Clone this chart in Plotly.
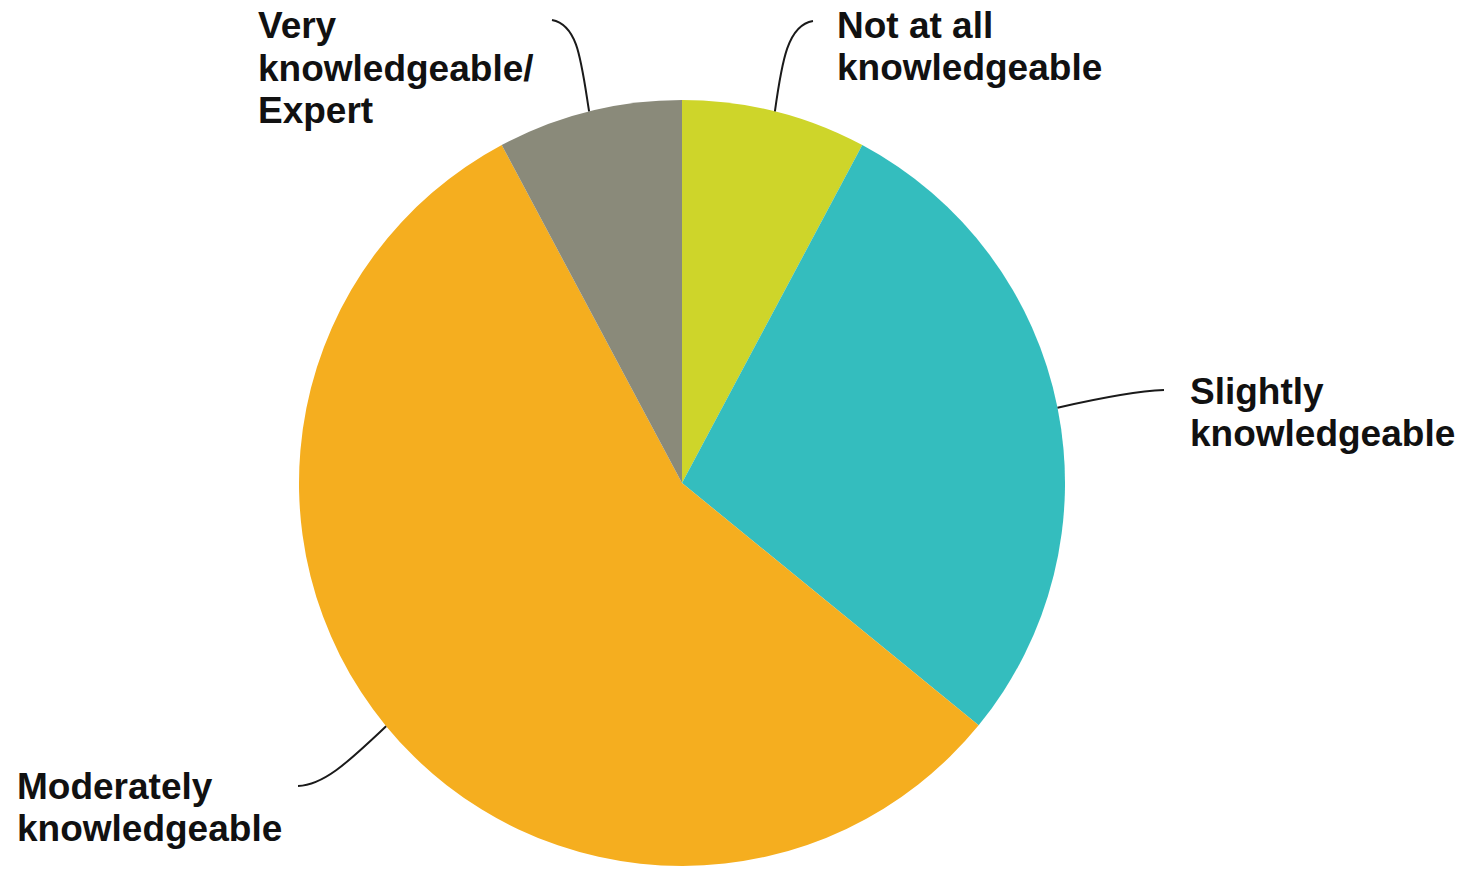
import math
import plotly.graph_objects as go

# ---- data ----
categories = ["Not at all knowledgeable", "Slightly knowledgeable",
              "Moderately knowledgeable", "Very knowledgeable/ Expert"]
values = [7.8, 28.1, 56.3, 7.8]
label_lines = [["Not at all", "knowledgeable"],
               ["Slightly", "knowledgeable"],
               ["Moderately", "knowledgeable"],
               ["Very", "knowledgeable/", "Expert"]]
colors = ["#CED52A", "#34BDBE", "#F5AE1F", "#8A8A7A"]

# ---- layout geometry (screen pixels) ----
W, H = 1473, 872
CX, CY, R = 682, 483, 383


def px(x):
    return x / W


def py(y):
    return 1 - y / H


fig = go.Figure()
fig.add_trace(go.Pie(
    labels=categories, values=values, sort=False, direction="clockwise",
    rotation=0, marker=dict(colors=colors, line=dict(width=0)),
    textinfo="none", hoverinfo="label+percent", showlegend=False,
    domain=dict(x=[px(CX - R), px(CX + R)], y=[py(CY + R), py(CY - R)]),
))

# label placement (left x, first line centre y) and leader-line ends
label_style = [
    dict(x=835, y=25, end=(813, 21), c1=(782, 60), c2=(788, 25)),
    dict(x=1188, y=391, end=(1164, 390), c1=(1100, 398), c2=(1135, 391)),
    dict(x=15, y=786, end=(298, 786), c1=(350, 760), c2=(325, 785)),
    dict(x=256, y=26, end=(552, 20), c1=(581, 60), c2=(578, 25)),
]
LINE_SP = 42.5

total = sum(values)
cum = 0.0
shapes = []
annotations = []
for i, v in enumerate(values):
    mid = (cum + v / 2) / total * 2 * math.pi
    cum += v
    sx = CX + R * math.sin(mid)
    sy = CY - R * math.cos(mid)
    st = label_style[i]
    ex, ey = st["end"]
    (c1x, c1y), (c2x, c2y) = st["c1"], st["c2"]
    path = (f"M {px(sx)},{py(sy)} C {px(c1x)},{py(c1y)} "
            f"{px(c2x)},{py(c2y)} {px(ex)},{py(ey)}")
    shapes.append(dict(type="path", xref="paper", yref="paper", path=path,
                       line=dict(color="#1a1a1a", width=2)))
    for j, line in enumerate(label_lines[i]):
        annotations.append(dict(
            x=px(st["x"]), y=py(st["y"] + j * LINE_SP), xref="paper", yref="paper",
            text=line, showarrow=False, xanchor="left", yanchor="middle",
            font=dict(family="Liberation Sans, Arial, sans-serif", size=37,
                      color="#111111", weight="bold"),
        ))

fig.update_layout(
    width=W, height=H, autosize=False,
    margin=dict(l=0, r=0, t=0, b=0),
    paper_bgcolor="white", plot_bgcolor="white",
    shapes=shapes, annotations=annotations,
)

fig.write_html("out.html",
               config={"displayModeBar": False},
               post_script="document.body.style.margin='0';"
                           "document.body.style.padding='0';")
